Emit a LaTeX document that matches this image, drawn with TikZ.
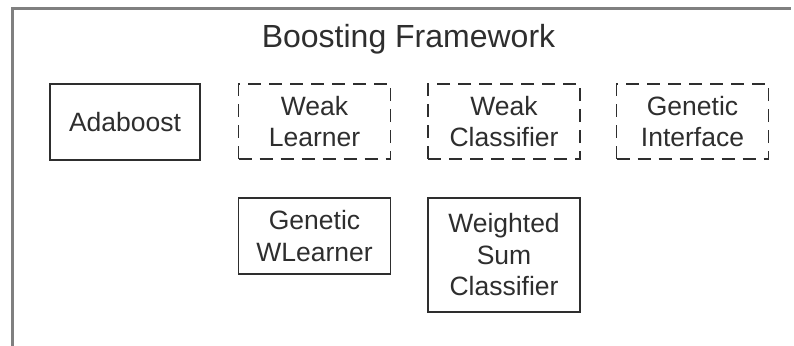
\documentclass[tikz,border=0pt]{standalone}
\usepackage{fontspec}
\setmainfont{Liberation Sans}
\definecolor{framegray}{HTML}{808080}
\definecolor{inkgray}{HTML}{2E2E2E}
\begin{document}
\begin{tikzpicture}[x=1pt,y=-1pt,
  box/.style={draw=inkgray, line width=1.4pt, rectangle, align=center,
    inner sep=0pt, minimum width=152pt, text=inkgray,
    font=\fontsize{26.5}{31.5}\selectfont},
  dbox/.style={box, dash pattern=on 13pt off 8pt},
  titletext/.style={text=inkgray, font=\fontsize{32}{38}\selectfont, inner sep=0pt}]
  \useasboundingbox (0,0) rectangle (794,345);
  % outer frame (open to the right and bottom)
  \coordinate (fbl) at (12,346);
  \coordinate (ftl) at (12,9);
  \coordinate (ftr) at (791,9);
  \draw[framegray, line width=3pt] (fbl) -- (ftl) -- (ftr);
  \node[titletext] (title) at (408.5,39) {Boosting Framework};
  \node[box, minimum width=150pt, minimum height=76pt] (ada) at (125,122) {Adaboost};
  \node[dbox, minimum height=75pt] (wl) at (314.5,121.5) {Weak\\Learner};
  \node[dbox, minimum height=75pt] (wc) at (504,121.5) {Weak\\Classifier};
  \node[dbox, minimum height=75pt] (gi) at (692.5,121.5) {Genetic\\Interface};
  \node[box, minimum height=76pt] (gwl) at (314.5,236) {Genetic\\WLearner};
  \node[box, minimum height=114pt] (wsc) at (504,255) {Weighted\\Sum\\Classifier};
\end{tikzpicture}
\end{document}
